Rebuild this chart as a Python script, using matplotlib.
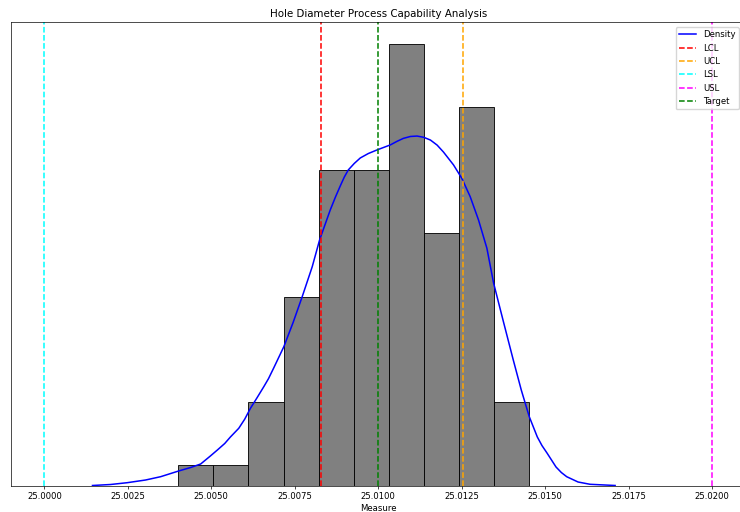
import matplotlib
matplotlib.use("Agg")
import matplotlib.pyplot as plt

# values
bin_edges = [25.00401, 25.00506, 25.00611, 25.00716, 25.00821, 25.00926,
             25.01031, 25.01136, 25.01241, 25.01346, 25.01452]
counts = [1, 1, 4, 9, 15, 15, 21, 12, 18, 4]

# density curve, scaled to the count axis
kde_x = [25.00144, 25.00198, 25.00248, 25.00303, 25.00348, 25.00402, 25.00438,
         25.00468, 25.00497, 25.00518, 25.00540, 25.00557, 25.00582, 25.00600,
         25.00617, 25.00637, 25.00657, 25.00671, 25.00687, 25.00717, 25.00745,
         25.00772, 25.00802, 25.00824, 25.00856, 25.00872, 25.00886, 25.00898,
         25.00910, 25.00928, 25.00946, 25.00970, 25.00996, 25.01036, 25.01056,
         25.01075, 25.01096, 25.01116, 25.01136, 25.01156, 25.01176, 25.01195,
         25.01225, 25.01250, 25.01275, 25.01300, 25.01325, 25.01345, 25.01374,
         25.01404, 25.01428, 25.01452, 25.01476, 25.01490, 25.01505, 25.01532,
         25.01548, 25.01564, 25.01598, 25.01634, 25.01709]
kde_y = [0.024, 0.071, 0.157, 0.285, 0.442, 0.713, 0.879,
         1.046, 1.426, 1.711, 2.02, 2.329, 2.742, 3.18,
         3.693, 4.20, 4.720, 5.10, 5.62, 6.621, 7.78,
         8.997, 10.42, 11.69, 13.12, 13.75, 14.26, 14.68,
         15.02, 15.33, 15.59, 15.80, 15.97, 16.21, 16.38,
         16.52, 16.61, 16.63, 16.57, 16.44, 16.20, 15.87,
         15.26, 14.62, 13.75, 12.64, 11.30, 9.65, 7.84,
         5.99, 4.56, 3.29, 2.33, 1.92, 1.568, 0.903,
         0.64, 0.442, 0.190, 0.081, 0.024]

limits = {"LCL": 25.00829, "UCL": 25.01253, "LSL": 25.0000, "USL": 25.0200, "Target": 25.0100}
limit_colors = {"LCL": "red", "UCL": "orange", "LSL": "cyan", "USL": "magenta", "Target": "green"}

# the reference looks like a 12x8 figure shrunk to 740 px, so scale everything down
s = 0.617
plt.rcParams["font.size"] = 10 * s
plt.rcParams["axes.linewidth"] = 0.8 * s
plt.rcParams["axes.titlepad"] = 6 * s
plt.rcParams["axes.labelpad"] = 4 * s
plt.rcParams["xtick.major.size"] = 3.5 * s
plt.rcParams["xtick.major.width"] = 0.8 * s
plt.rcParams["xtick.major.pad"] = 3.5 * s

fig = plt.figure(figsize=(7.4, 5.12), dpi=100)
ax = fig.add_axes([11 / 740, 26 / 512, 734.7 / 740, 464 / 512])

centers = [(bin_edges[i] + bin_edges[i + 1]) / 2 for i in range(len(counts))]
ax.hist(centers, bins=bin_edges, weights=counts, color="gray", edgecolor="black", linewidth=1.0 * s)
ax.plot(kde_x, kde_y, color="blue", linewidth=1.1, label="Density")

for name in ["LCL", "UCL", "LSL", "USL", "Target"]:
    ax.axvline(limits[name], color=limit_colors[name], linestyle="--", linewidth=1.1, label=name)

ax.ticklabel_format(axis="x", useOffset=False)
ax.set_yticks([])
ax.set_title("Hole Diameter Process Capability Analysis")
ax.set_xlabel("Measure")
ax.legend(loc="upper right", bbox_to_anchor=(739 / 740, 1 - 27 / 512),
          bbox_transform=fig.transFigure, borderaxespad=0)

fig.savefig("out.png", dpi=100)
